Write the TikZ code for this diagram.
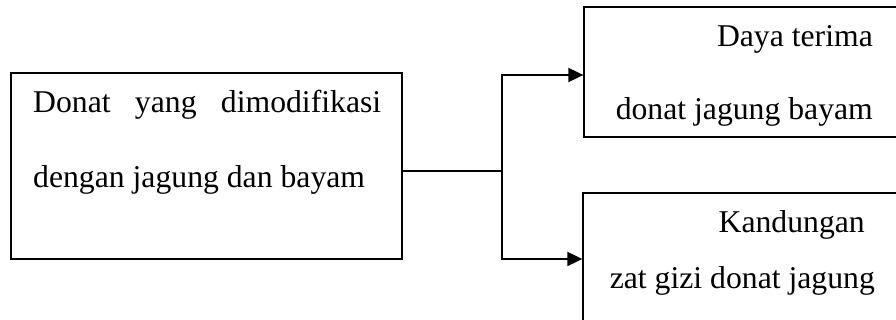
\documentclass[tikz,border=0pt]{standalone}
\usepackage{fontspec}
\setmainfont{Liberation Serif}
\usetikzlibrary{arrows.meta}
\begin{document}
\begin{tikzpicture}[x=1pt,y=-1pt,
  box/.style={draw,line width=1.3pt,rectangle,inner sep=0pt},
  txt/.style={inner sep=0pt,font=\fontsize{31.7}{38}\selectfont},
  link/.style={line width=1.9pt},
  arr/.style={link,-{Triangle[length=15pt,width=14pt]}}]
\useasboundingbox (0,0) rectangle (896,320);

% boxes
\node[box,minimum width=391pt,minimum height=186pt] (src) at (206.5,166) {};
\node[box,minimum width=336pt,minimum height=130pt] (tA) at (752,72) {};
\node[box,minimum width=337pt,minimum height=132pt] (tB) at (751.5,259) {};

% texts
\node[txt,anchor=base west] (s1) at (33,113) {\makebox[348pt][s]{Donat yang dimodifikasi}};
\node[txt,anchor=base west] (s2) at (33,188) {dengan jagung dan bayam};
\node[txt,anchor=base east] (a1) at (873,47) {Daya terima};
\node[txt,anchor=base east] (a2) at (873,120) {donat jagung bayam};
\node[txt,anchor=base east] (b1) at (865,233) {Kandungan};
\node[txt,anchor=base east] (b2) at (875,288) {zat gizi donat jagung};

% connectors
\coordinate (fork) at (502,171);
\draw[link] (src.east |- fork) -- (fork);
\draw[arr] (fork) |- ([yshift=-3pt]tA.west);
\draw[arr] (fork) |- (tB.west);
\end{tikzpicture}
\end{document}
